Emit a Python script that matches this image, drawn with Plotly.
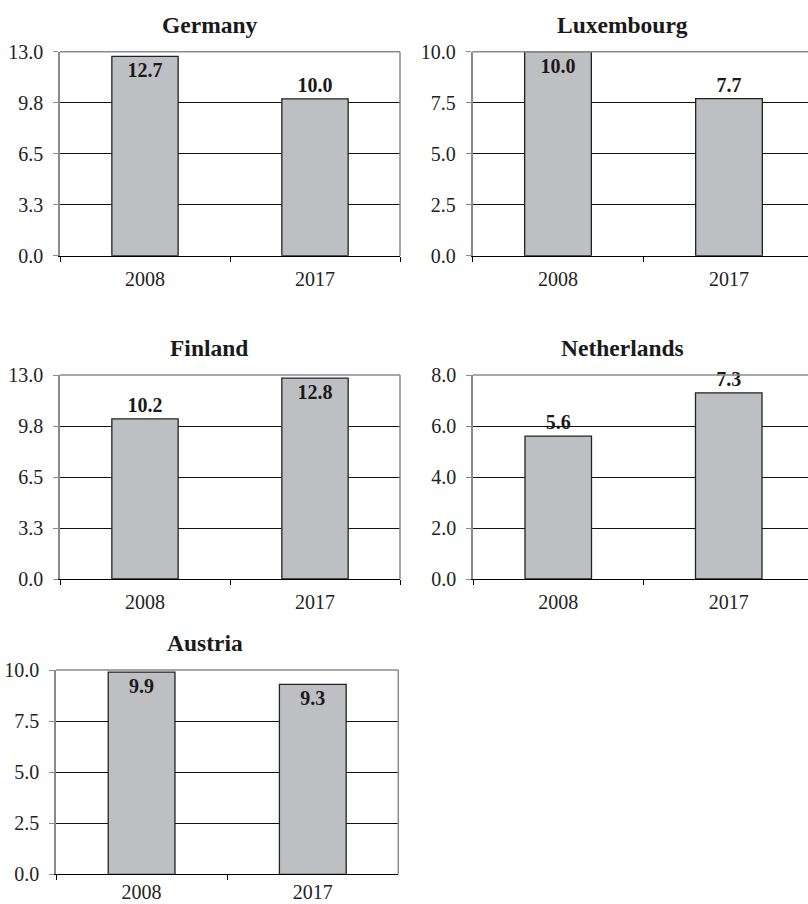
import plotly.graph_objects as go

# ---------------- data ----------------
years = ["2008", "2017"]
titles = ["Germany", "Luxembourg", "Finland", "Netherlands", "Austria"]

germany = [12.7, 10.0]
luxembourg = [10.0, 7.7]
finland = [10.2, 12.8]
netherlands = [5.6, 7.3]
austria = [9.9, 9.3]

ticks_13 = [0.0, 3.25, 6.5, 9.75, 13.0]
ticktext_13 = ["0.0", "3.3", "6.5", "9.8", "13.0"]
ticks_10 = [0.0, 2.5, 5.0, 7.5, 10.0]
ticktext_10 = ["0.0", "2.5", "5.0", "7.5", "10.0"]
ticks_8 = [0.0, 2.0, 4.0, 6.0, 8.0]
ticktext_8 = ["0.0", "2.0", "4.0", "6.0", "8.0"]

values = [germany, luxembourg, finland, netherlands, austria]
tickvals = [ticks_13, ticks_10, ticks_13, ticks_8, ticks_10]
ticktexts = [ticktext_13, ticktext_10, ticktext_13, ticktext_8, ticktext_10]

# ---------------- layout (pixels) ----------------
W, H = 808, 904
# (x0, x1, y_top, y_bottom, full_right_visible)
boxes = [
    (60, 400, 51.7, 255.7, True),
    (472.5, 808, 51.7, 255.7, False),
    (60, 400, 375, 579, True),
    (473, 808, 375, 579, False),
    (56, 398.3, 670, 874.3, True),
]
cat_px = [170, 171, 170, 170.5, 171.2]
x_standoff = [5, 5, 5, 5, 0]
title_pos = [(209.5, 25), (622, 25), (209, 348), (622, 348), (205, 643)]

SERIF = "Liberation Serif"
BAR_FILL = "#BEBFC3"
BAR_LINE = "#222222"
AXIS_GRAY = "#8A8A8A"

fig = go.Figure()
shapes = []
annotations = []

for i, (title, vals, tv, tt, box) in enumerate(zip(titles, values, tickvals, ticktexts, boxes)):
    n = i + 1
    xa = "x" if n == 1 else f"x{n}"
    ya = "y" if n == 1 else f"y{n}"
    x0, x1, yt, yb, full = box
    xdom = [x0 / W, x1 / W]
    ydom = [1 - yb / H, 1 - yt / H]
    xrange_hi = -0.5 + (x1 - x0) / cat_px[i]
    ymax = tv[-1]

    positions = ["inside" if v / ymax >= 0.92 else "outside" for v in vals]

    fig.add_trace(go.Bar(
        x=years, y=vals, xaxis=xa, yaxis=ya, width=0.39,
        marker=dict(color=BAR_FILL, line=dict(color=BAR_LINE, width=1.3)),
        text=[f"<b>{v:.1f}</b>" for v in vals],
        textposition=positions, insidetextanchor="end",
        textangle=0, cliponaxis=False, constraintext="none",
        insidetextfont=dict(family=SERIF, size=20, color="#1a1a1a"),
        outsidetextfont=dict(family=SERIF, size=20, color="#1a1a1a"),
        showlegend=False, hoverinfo="x+y",
    ))

    xkey = "xaxis" if n == 1 else f"xaxis{n}"
    ykey = "yaxis" if n == 1 else f"yaxis{n}"
    fig.update_layout({
        xkey: dict(
            domain=xdom, anchor=ya, type="category",
            range=[-0.5, xrange_hi], tickson="boundaries",
            ticks="outside", ticklen=5, tickcolor="#000", tickwidth=1,
            showline=True, linecolor="#000", linewidth=1,
            showgrid=False, zeroline=False, fixedrange=True,
            automargin=False, ticklabelstandoff=x_standoff[i],
            tickfont=dict(family=SERIF, size=20, color="#222"),
        ),
        ykey: dict(
            domain=ydom, anchor=xa, range=[0, ymax],
            tickvals=tv, ticktext=tt,
            ticks="outside", ticklen=5, tickcolor=AXIS_GRAY, tickwidth=1,
            showline=True, linecolor=AXIS_GRAY, linewidth=1.5,
            showgrid=True, gridcolor="#111", gridwidth=1,
            zeroline=False, fixedrange=True, ticklabelstandoff=6,
            automargin=False,
            tickfont=dict(family=SERIF, size=20, color="#222"),
        ),
    })

    # plot-area border (top and right), gray
    shapes.append(dict(type="line", xref=f"{xa} domain", yref=f"{ya} domain",
                       x0=0, x1=1, y0=1, y1=1, layer="above",
                       line=dict(color=AXIS_GRAY, width=1.5)))
    if full:
        shapes.append(dict(type="line", xref=f"{xa} domain", yref=f"{ya} domain",
                           x0=1, x1=1, y0=0, y1=1, layer="above",
                           line=dict(color=AXIS_GRAY, width=1.5)))

    # panel title
    tx, ty = title_pos[i]
    annotations.append(dict(
        x=tx / W, y=1 - ty / H, xref="paper", yref="paper",
        text=f"<b>{title}</b>", showarrow=False,
        xanchor="center", yanchor="middle",
        font=dict(family=SERIF, size=23.5, color="#1a1a1a"),
    ))

fig.update_layout(
    width=W, height=H, autosize=False,
    margin=dict(l=0, r=0, t=0, b=0, pad=0, autoexpand=False),
    paper_bgcolor="white", plot_bgcolor="white",
    shapes=shapes, annotations=annotations,
    bargap=0.6, uniformtext=dict(mode=False),
)

fig.write_html("out.html", config={"displayModeBar": False})
